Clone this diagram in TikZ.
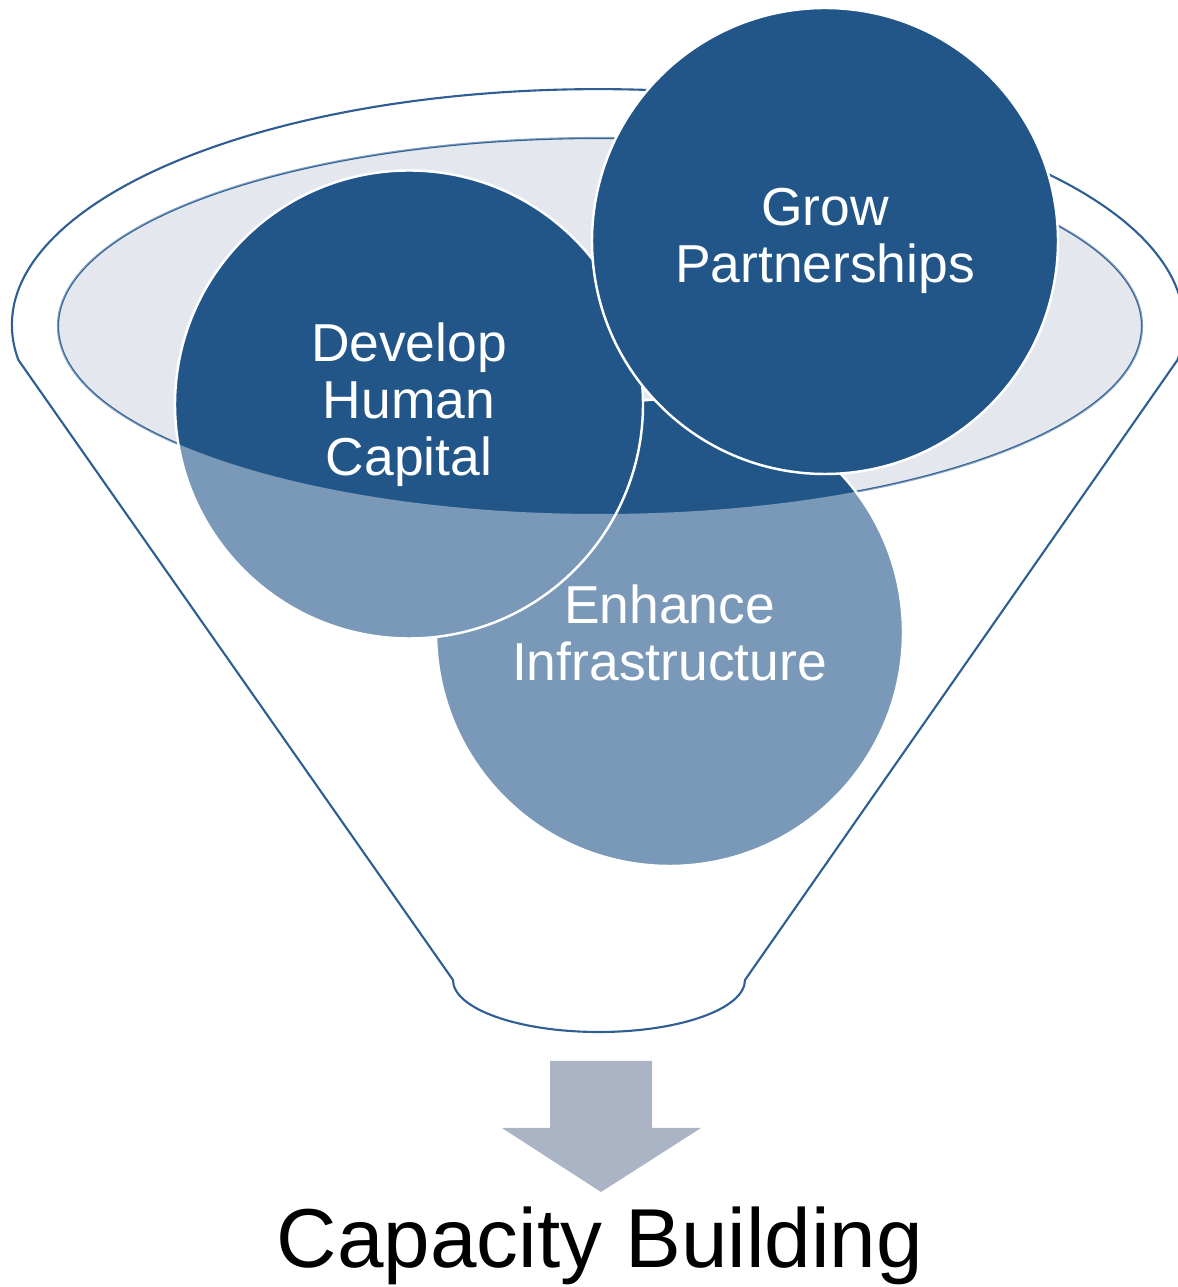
\documentclass[tikz,border=0pt]{standalone}
\usepackage{fontspec}
\setmainfont{Liberation Sans}
\definecolor{darkblue}{HTML}{225689}
\definecolor{rimblue}{HTML}{2E5E93}
\definecolor{mouthgray}{HTML}{E4E8EE}
\definecolor{arrowgray}{HTML}{ABB4C5}
\newcommand{\funnelpath}{(0.184,9.27) arc[start angle=188.5,end angle=-8.5,x radius=5.86,y radius=2.36]
    -- (7.45,3.07) arc[start angle=0,end angle=-180,x radius=1.46,y radius=0.52] -- cycle}

\begin{document}
\begin{tikzpicture}[bubble/.style={circle,fill=darkblue,draw=white,line width=0.7pt,minimum size=4.67cm,
                                   inner sep=0pt,text=white,align=center,font=\fontsize{15.2}{16.2}\selectfont},
                    rim/.style={draw=rimblue,line width=0.6pt}]
    \useasboundingbox (0,0) rectangle (11.78,12.87);
    %mouth
    \draw [rim,fill=mouthgray] (6.00,9.61) ellipse [x radius=5.42,y radius=1.88];
    %lower circles
    \node [bubble] (enhance) at (6.695,6.545) {Enhance\\Infrastructure};
    \node [bubble,minimum size=4.68cm] (develop) at (4.09,8.825) {Develop\\Human\\Capital};
    %veil over the funnel body
    \fill [white,fill opacity=0.4,even odd rule] \funnelpath
          (6.00,9.61) ellipse [x radius=5.42,y radius=1.88];
    %funnel
    \draw [rim] \funnelpath;
    %top circle
    \node [bubble,minimum size=4.66cm] (grow) at (8.25,10.46) {Grow\\Partnerships};
    %output
    \fill [arrowgray] (5.50,2.26) -- (6.52,2.26) -- (6.52,1.59) -- (7.01,1.59) -- (6.01,0.95)
                      -- (5.02,1.59) -- (5.50,1.59) -- cycle;
    \node [anchor=base,font=\fontsize{23.8}{28}\selectfont] (result) at (6.00,0.19) {Capacity Building};
\end{tikzpicture}
\end{document}
